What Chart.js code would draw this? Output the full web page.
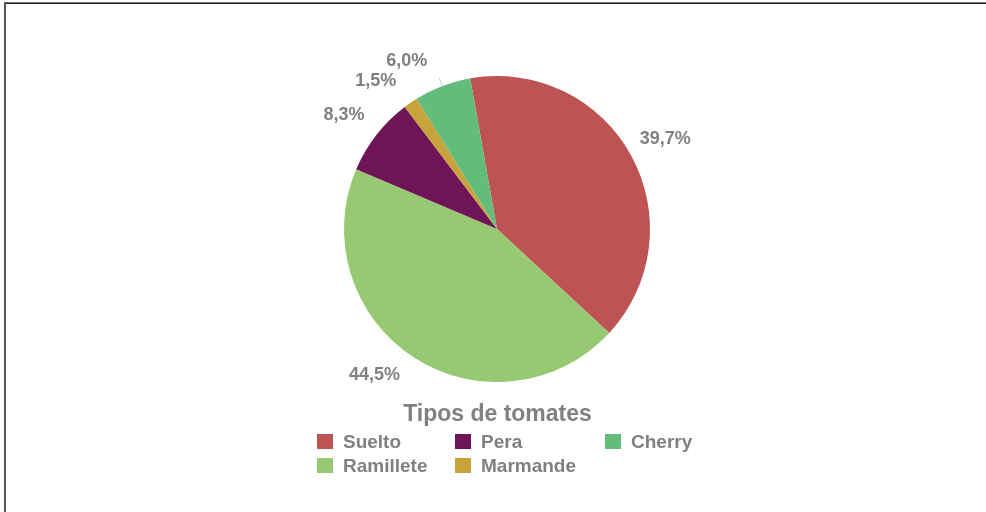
<!DOCTYPE html>
<html>
<head>
<meta charset="utf-8">
<script src="https://cdn.jsdelivr.net/npm/chart.js@4/dist/chart.umd.min.js"></script>
<style>
  html, body { margin: 0; padding: 0; background: #ffffff; }
  #wrap { position: relative; width: 986px; height: 512px; overflow: hidden; background: #fff; }
  #c { position: absolute; left: 0; top: 0; }
  .bt { position: absolute; left: 4px; top: 2px; width: 982px; height: 1px; background: #777; }
  .bt2 { position: absolute; left: 4px; top: 3px; width: 982px; height: 1px; background: #1e1e1e; }
  .bl { position: absolute; left: 4px; top: 2px; width: 2px; height: 510px; background: #555; }
  #title { position: absolute; left: 0; width: 995px; top: 398px; text-align: center;
           font: bold 23px "Liberation Sans", Arial, sans-serif; color: #808080; line-height: 30px; }
  #legend { position: absolute; left: 317px; top: 434px; display: grid;
            grid-template-columns: 138px 150px auto; grid-auto-rows: 24px;
            font: bold 19px "Liberation Sans", Arial, sans-serif; color: #808080; }
  .item { display: flex; align-items: flex-start; height: 24px; }
  .sw { width: 16px; height: 15px; margin-top: 0px; margin-right: 10px; flex: none; }
  .lt { line-height: 16px; margin-top: 0px; }
</style>
</head>
<body>
<div id="wrap">
  <canvas id="c" width="986" height="512"></canvas>
  <div class="bt"></div><div class="bt2"></div><div class="bl"></div>
  <div id="title">Tipos de tomates</div>
  <div id="legend"></div>
</div>
<script>
// ---- data ----
const categories = ['Suelto', 'Ramillete', 'Pera', 'Marmande', 'Cherry'];
const shares = [39.7, 44.5, 8.3, 1.5, 6.0];
const shareLabels = ['39,7%', '44,5%', '8,3%', '1,5%', '6,0%'];
const legendOrder = ['Suelto', 'Pera', 'Cherry', 'Ramillete', 'Marmande'];
const chartTitle = 'Tipos de tomates';

// ---- style ----
const sliceColors = ['#BE5353', '#96C972', '#6F1557', '#C8A23B', '#62BD7B'];
const labelNudgeDeg = [0.4, 7.0, -1.2, -5.0, -7.3];
const labelLeader = [false, false, false, false, true];

const outsideLabels = {
  id: 'outsideLabels',
  afterDatasetsDraw(chart) {
    const ctx = chart.ctx;
    const meta = chart.getDatasetMeta(0);
    ctx.save();
    ctx.font = 'bold 18px "Liberation Sans", Arial, sans-serif';
    ctx.fillStyle = '#808080';
    ctx.textAlign = 'center';
    ctx.textBaseline = 'middle';
    meta.data.forEach((arc, i) => {
      const p = arc.getProps(['x', 'y', 'startAngle', 'endAngle', 'outerRadius'], true);
      const mid = (p.startAngle + p.endAngle) / 2;
      const a = mid + labelNudgeDeg[i] * Math.PI / 180;
      const d = p.outerRadius + 38;
      ctx.fillText(shareLabels[i], p.x + Math.cos(a) * d, p.y + Math.sin(a) * d);
      if (labelLeader[i]) {
        ctx.beginPath();
        ctx.strokeStyle = '#c8c8c8';
        ctx.lineWidth = 1;
        ctx.moveTo(p.x + Math.cos(mid) * (p.outerRadius + 1), p.y + Math.sin(mid) * (p.outerRadius + 1));
        ctx.lineTo(p.x + Math.cos(mid) * (p.outerRadius + 9), p.y + Math.sin(mid) * (p.outerRadius + 9));
        ctx.stroke();
      }
    });
    ctx.restore();
  }
};

new Chart(document.getElementById('c'), {
  type: 'pie',
  data: {
    labels: categories,
    datasets: [{
      data: shares,
      backgroundColor: sliceColors,
      borderWidth: 0
    }]
  },
  options: {
    responsive: false,
    animation: false,
    devicePixelRatio: 1,
    rotation: -10.1,
    layout: { padding: { left: 344, right: 336, top: 76, bottom: 130 } },
    plugins: {
      legend: { display: false },
      title: { display: false },
      tooltip: { enabled: false }
    }
  },
  plugins: [outsideLabels]
});

document.getElementById('title').textContent = chartTitle;
const legend = document.getElementById('legend');
legendOrder.forEach(name => {
  const i = categories.indexOf(name);
  const item = document.createElement('div');
  item.className = 'item';
  const sw = document.createElement('div');
  sw.className = 'sw';
  sw.style.background = sliceColors[i];
  const t = document.createElement('div');
  t.className = 'lt';
  t.textContent = name;
  item.appendChild(sw);
  item.appendChild(t);
  legend.appendChild(item);
});
</script>
</body>
</html>
